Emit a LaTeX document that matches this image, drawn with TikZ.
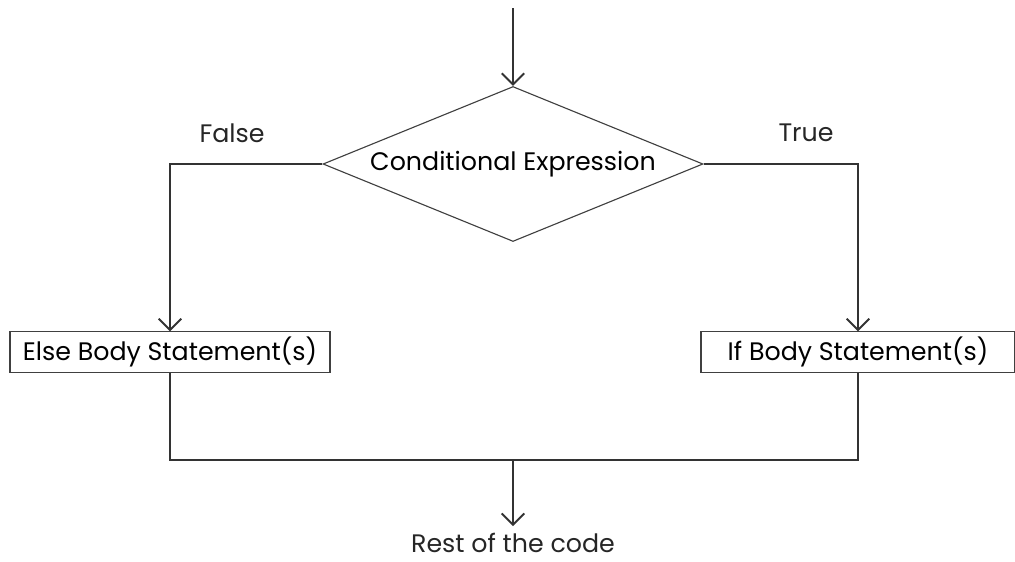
\documentclass[tikz,border=0pt]{standalone}
\usepackage{fontspec}
\setmainfont{Poppins}
\usetikzlibrary{positioning, arrows.meta, shapes.geometric}

\begin{document}
\begin{tikzpicture}[
  line/.style={draw=black!80, line width=1.4pt},
  arrow/.style={line, -{Straight Barb[length=8pt, width=16pt, line width=1.4pt]}},
  decision/.style={diamond, draw=black!75, line width=0.8pt, minimum width=9.5cm, minimum height=3.875cm, inner sep=0pt, aspect=2.4, font=\fontsize{18}{21}\selectfont},
  stmt/.style={draw=black!75, line width=0.8pt, minimum height=1.025cm, inner sep=0pt, font=\fontsize{18}{21}\selectfont},
  lbl/.style={font=\fontsize{18}{21}\selectfont, text=black!85, inner sep=0pt}
]
\useasboundingbox (0,0) rectangle (25.375,-14.025);
\coordinate (start) at (12.825,-0.2);
\node[decision] (cond) at (12.825,-4.1) {Conditional Expression};
\node[stmt, minimum width=8cm] (elsebody) at (4.25,-8.81) {Else Body Statement(s)};
\node[stmt, minimum width=7.85cm] (ifbody) at (21.45,-8.81) {If Body Statement(s)};
\coordinate (join) at (12.825,-11.5);
\node[lbl] (rest) at (12.825,-13.58) {Rest of the code};
\node[lbl] (false) at (5.8,-3.33) {False};
\node[lbl] (true) at (20.15,-3.33) {True};
\draw[arrow] (start) -- (cond.north);
\draw[arrow] (cond.west) -| (elsebody.north);
\draw[arrow] (cond.east) -| (ifbody.north);
\draw[line] (elsebody.south) |- (join) -| (ifbody.south);
\draw[arrow, shorten >=5pt] (join) -- (rest.north);
\end{tikzpicture}
\end{document}
